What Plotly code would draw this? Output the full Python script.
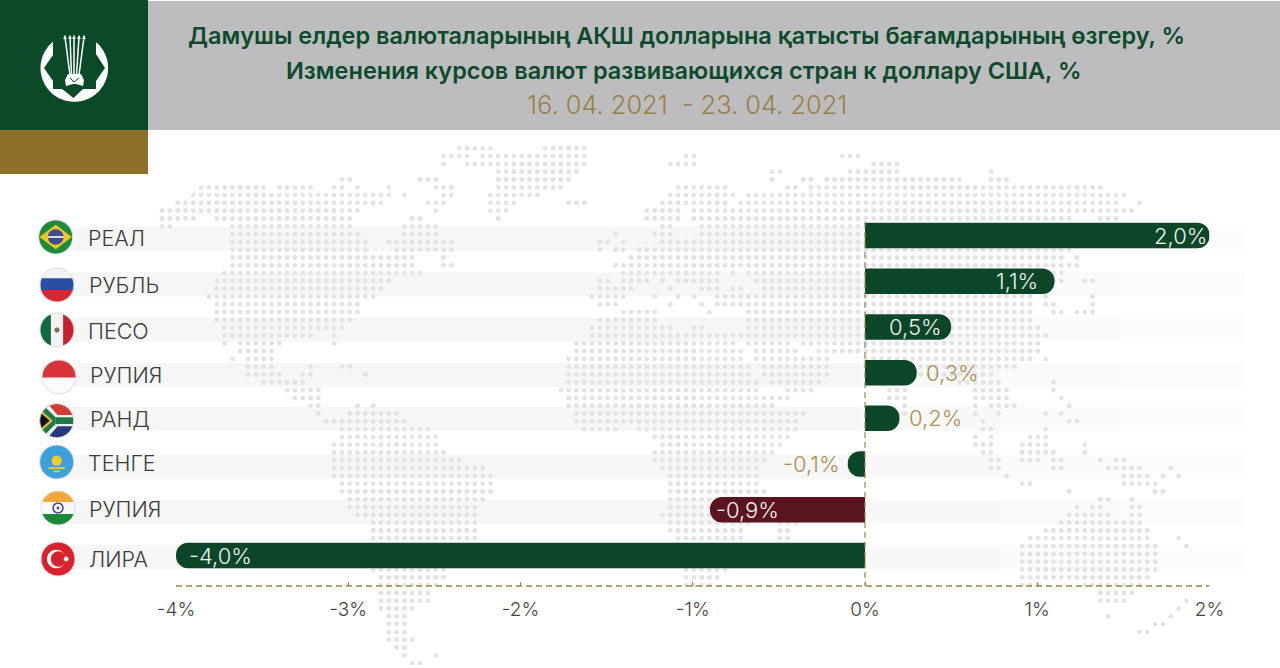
import numpy as np
import plotly.graph_objects as go

# ---------- data ----------
currencies = ["РЕАЛ", "РУБЛЬ", "ПЕСО", "РУПИЯ", "РАНД", "ТЕНГЕ", "РУПИЯ", "ЛИРА"]
changes = [2.0, 1.1, 0.5, 0.3, 0.2, -0.1, -0.9, -4.0]
value_labels = ["2,0%", "1,1%", "0,5%", "0,3%", "0,2%", "-0,1%", "-0,9%", "-4,0%"]
tick_values = [-4, -3, -2, -1, 0, 1, 2]
tick_labels = ["-4%", "-3%", "-2%", "-1%", "0%", "1%", "2%"]
title_kz = "Дамушы елдер валюталарының АҚШ долларына қатысты бағамдарының өзгеру, %"
title_ru = "Изменения курсов валют развивающихся стран к доллару США, %"
title_date = "16. 04. 2021  - 23. 04. 2021"

# decorative dotted world map: filled grid-cell runs per grid row
map_rows = [
 [(38,42),(49,54)],
 [(36,39),(41,54),(67,68),(87,89)],
 [(36,36),(39,54),(65,68),(91,94)],
 [(43,53),(78,79),(88,94),(106,106)],
 [(23,24),(33,35),(43,52),(78,78),(82,83),(85,102),(106,108)],
 [(5,13),(15,19),(22,23),(25,25),(29,29),(35,37),(43,51),(66,72),(80,81),(83,120)],
 [(4,29),(31,31),(36,37),(42,48),(65,73),(75,123)],
 [(2,28),(34,36),(42,45),(52,54),(64,72),(74,122),(125,125)],
 [(0,25),(35,35),(42,44),(62,66),(68,124)],
 [(0,4),(7,24),(32,33),(43,43),(62,66),(68,116),(120,122)],
 [(0,1),(9,24),(31,35),(64,65),(69,116)],
 [(9,25),(31,35),(58,58),(63,65),(69,117)],
 [(9,26),(29,37),(56,57),(59,59),(64,117)],
 [(9,26),(30,37),(56,56),(58,59),(61,116)],
 [(9,32),(36,36),(60,115),(117,117)],
 [(9,32),(36,37),(58,117)],
 [(8,33),(59,71),(73,73),(75,115)],
 [(7,29),(56,57),(59,62),(64,64),(66,71),(76,115),(118,119)],
 [(7,28),(56,60),(65,65),(69,71),(73,74),(77,113)],
 [(6,27),(55,59),(63,63),(66,66),(68,68),(71,111),(113,113),(119,119)],
 [(7,25),(56,58),(65,65),(69,69),(71,111),(113,114),(119,119)],
 [(7,25),(59,63),(70,70),(75,111),(114,115),(117,119)],
 [(7,24),(56,63),(75,111)],
 [(8,23),(55,65),(68,69),(75,112)],
 [(8,19),(22,22),(55,113)],
 [(8,8),(10,15),(22,22),(53,73),(75,80),(82,112)],
 [(10,14),(53,74),(76,81),(84,112)],
 [(9,9),(11,14),(52,74),(76,85),(90,111),(113,113)],
 [(11,14),(19,19),(23,24),(52,75),(77,85),(90,109)],
 [(11,15),(18,19),(26,26),(52,75),(77,85),(90,106)],
 [(13,18),(52,76),(78,84),(102,107),(114,114)],
 [(16,20),(51,76),(80,83),(93,95),(104,108),(114,114)],
 [(17,20),(52,80),(93,95),(104,108),(115,115)],
 [(19,20),(25,25),(27,27),(52,78),(95,95),(104,104),(106,109),(116,116)],
 [(20,20),(24,30),(53,82),(95,95),(104,104),(107,107),(113,113),(115,115)],
 [(21,31),(53,81),(105,105),(116,117)],
 [(23,34),(54,58),(61,81),(105,106),(113,113)],
 [(23,35),(63,80),(104,104),(106,106),(111,113)],
 [(22,35),(64,79),(104,106),(110,113),(118,118)],
 [(22,36),(63,78),(105,106),(110,114),(118,118)],
 [(22,38),(63,77),(106,107),(110,112),(114,115),(120,120),(122,123)],
 [(22,41),(64,76),(106,107),(114,115),(121,125),(129,129)],
 [(22,42),(65,76),(108,108),(123,126),(128,128),(130,130)],
 [(23,42),(65,76),(110,111),(123,127)],
 [(23,42),(65,77),(116,116),(127,128)],
 [(24,41),(65,76),(120,121),(124,124)],
 [(24,40),(65,74),(117,117),(119,120),(124,125)],
 [(25,40),(64,74),(116,121),(124,125)],
 [(27,40),(65,75),(79,81),(115,125)],
 [(27,40),(65,74),(79,80),(113,126)],
 [(27,40),(66,74),(79,80),(111,126),(130,130)],
 [(27,40),(66,73),(110,127),(131,131)],
 [(27,39),(66,73),(110,127)],
 [(27,38),(66,73),(110,127)],
 [(27,36),(67,72),(110,127)],
 [(28,36),(67,71),(110,126)],
 [(28,35),(67,70),(110,112),(118,125)],
 [(28,34),(120,124)],
 [(28,34),(120,123),(131,131)],
 [(28,32),(130,130)],
 [(29,31),(121,121),(129,129)],
 [(29,31),(127,128)],
 [(29,31),(125,126)],
 [(29,32)],
 [(30,31)],
 [(31,31),(35,35)],
 [(32,33)],
]

# ---------- page layout (pixels) ----------
W, H = 1280, 668
AX_L, AX_R, AX_B = 176.0, 1209.5, 586.0
ROW_TOP, ROW_BOT, BAR_H = 235.5, 555.5, 25.5
n_rows = len(currencies)
row_step = (ROW_BOT - ROW_TOP) / (n_rows - 1)
AX_T = ROW_TOP - row_step / 2
GREEN, GOLD, BURGUNDY = "#0c4629", "#8f702b", "#5a1420"
BAND_Y = [238.7, 284.2, 329.8, 375, 418.7, 467, 512, 557]
BAND_FADE = [(48, 860, "#f6f6f7"), (860, 1000, "#f8f8f8"), (1000, 1120, "#fafafa"), (1120, 1245, "#fcfcfc")]
LABEL_X = [86, 87, 85.5, 88, 88, 85.5, 87, 87]
LABEL_Y = [238, 285, 331, 375, 419, 463, 509, 559]
FLAG_C = [(55.7,237),(57,285),(57,330),(59,377),(56.7,420.7),(56.7,462),(58,508),(58,559)]
FLAG_R = 17
VALUE_SHIFT = [-1, -14, -7, 7, 8, -6, 4, 11]   # label gap from each bar tip, px
VALUE_ANCHOR = ["right", "right", "right", "left", "left", "right", "left", "left"]
VALUE_INSIDE = [True, True, True, False, False, False, True, True]
GX0, GY0, GS, GSY = 162.0, 148.3, 7.82, 7.8

fig = go.Figure()

# ---------- dotted map, on a full-page pixel axis pair ----------
dot_x, dot_y = [], []
for r, runs in enumerate(map_rows):
    for a, b in runs:
        for c in range(a, b + 1):
            dot_x.append(GX0 + GS * c)
            dot_y.append(GY0 + GSY * r)
fig.add_trace(go.Scatter(x=dot_x, y=dot_y, mode="markers", hoverinfo="skip",
                         marker=dict(size=4.8, color="#e3e3e5", line_width=0), xaxis="x", yaxis="y"))

# ---------- bars ----------
colors = [BURGUNDY if i == 6 else GREEN for i in range(n_rows)]
rows = list(range(n_rows))
fig.add_trace(go.Bar(x=changes, y=rows, orientation="h", xaxis="x2", yaxis="y2",
                     marker=dict(color=colors, cornerradius=12.7, line_width=0), hoverinfo="skip"))

shapes = []
def rect(x0, y0, x1, y1, color, layer="below"):
    shapes.append(dict(type="rect", xref="x", yref="y", x0=x0, x1=x1, y0=y0, y1=y1,
                       fillcolor=color, line_width=0, layer=layer))
def poly(points, color, layer="above"):
    d = "M" + "L".join(f"{x:.2f},{y:.2f}" for x, y in points) + "Z"
    shapes.append(dict(type="path", xref="x", yref="y", path=d, fillcolor=color, line_width=0, layer=layer))
def line(points, color="#ffffff", width=1.4):
    d = "M" + "L".join(f"{x:.2f},{y:.2f}" for x, y in points)
    shapes.append(dict(type="path", xref="x", yref="y", path=d, line=dict(color=color, width=width), layer="above"))
def circle_pts(cx, cy, r, n=56):
    t = np.linspace(0, 2 * np.pi, n, endpoint=False)
    return np.column_stack([cx + r * np.cos(t), cy + r * np.sin(t)])

# header
rect(148, 1, W, 130, "#bdbdbf")
rect(0, 0, 148, 130, "#0a4a29")
rect(0, 130, 148, 174, GOLD)

# row bands
for y in BAND_Y:
    for x0, x1, col in BAND_FADE:
        rect(x0, y - 12, x1, y + 12, col)

# dashed axis and zero line, gold
shapes.append(dict(type="line", xref="x2", yref="y", x0=-4, x1=2, y0=AX_B, y1=AX_B,
                   line=dict(color="#a08449", width=1.3, dash="6px,4px"), layer="above"))
shapes.append(dict(type="line", xref="x2", yref="y", x0=0, x1=0, y0=222, y1=AX_B,
                   line=dict(color="#a08449", width=1.2, dash="6px,4px"), layer="above"))

# logo
poly(circle_pts(74.3, 68, 33.8, 90), "#ffffff")
poly([(53,30),(96,30),(96,54),(105,68),(96,81),(96,89),(83,89),(73.5,98),(62,89),(53,89),(53,81),(44,68),(53,55)], "#0a4a29")
for x_top, x_bot in [(65, 70), (70, 71.5), (74, 74), (79, 76.5), (84, 79)]:
    line([(x_top, 37), (x_bot, 75)], width=1.5)
    poly([(x_top - 1.8, 39), (x_top, 34.5), (x_top + 1.8, 39)], "#ffffff")
poly([(68,74),(81,74),(84,80),(83,86),(76,84),(73,84),(66,86),(65,80)], "#ffffff")
line([(70,78),(74,82),(79,78)], "#0a4a29", 1)

# flags: polygons in unit-circle coordinates, clipped to the disc
def clip_to_disc(subject, n=56):
    win = circle_pts(0, 0, 1, n)
    out = [tuple(p) for p in subject]
    for i in range(n):
        a, b = win[i], win[(i + 1) % n]
        inp, out = out, []
        side = lambda p: (b[0]-a[0])*(p[1]-a[1]) - (b[1]-a[1])*(p[0]-a[0])
        for j, q in enumerate(inp):
            p = inp[j - 1]
            sp, sq = side(p), side(q)
            if sq >= 0:
                if sp < 0:
                    t = sp / (sp - sq); out.append((p[0]+t*(q[0]-p[0]), p[1]+t*(q[1]-p[1])))
                out.append(q)
            elif sp >= 0:
                t = sp / (sp - sq); out.append((p[0]+t*(q[0]-p[0]), p[1]+t*(q[1]-p[1])))
        if not out:
            return []
    return out
def flag_part(c, pts, color):
    clipped = clip_to_disc(pts)
    if clipped:
        poly([(c[0] + FLAG_R * x, c[1] + FLAG_R * y) for x, y in clipped], color)
def box(u0, v0, u1, v1):
    return [(u0, v0), (u1, v0), (u1, v1), (u0, v1)]
def disc(u, v, r):
    return [tuple(p) for p in circle_pts(u, v, r, 28)]
A = box(-1.1, -1.1, 1.1, 1.1)
flag_specs = [
    [(A, "#1d8a3e"), ([(-.95,0),(0,-.72),(.95,0),(0,.72)], "#f4c61f"), (disc(0,0,.46), "#3f4c94"), (box(-.46,-.06,.46,.06), "#d8dbe8")],
    [(A, "#f4f4f5"), (box(-1.1,-.4,1.1,.3), "#2b4ea3"), (box(-1.1,.3,1.1,1.1), "#d9262c")],
    [(A, "#f4f4f2"), (box(-1.1,-1.1,-.36,1.1), "#0d6a3d"), (box(.36,-1.1,1.1,1.1), "#c8202f"), (disc(0,0,.15), "#7d6a4a")],
    [(A, "#fbfbfb"), (box(-1.1,-1.1,1.1,.03), "#d8333a")],
    [(box(-1.1,-1.1,1.1,0), "#d5392f"), (box(-1.1,0,1.1,1.1), "#243a7c"),
     ([(-1.1,-1.1),(-.62,-1.1),(.05,-.33),(.05,.33),(-.62,1.1),(-1.1,1.1)], "#f2f2f2"), (box(.05,-.33,1.1,.33), "#f2f2f2"),
     ([(-1.1,-.9),(-.78,-.9),(-.06,-.2),(-.06,.2),(-.78,.9),(-1.1,.9)], "#1f7a4a"), (box(-.06,-.2,1.1,.2), "#1f7a4a"),
     ([(-1.1,-.78),(-.22,0),(-1.1,.78)], "#e8b62c"), ([(-1.1,-.6),(-.42,0),(-1.1,.6)], "#111111")],
    [(A, "#3ba0dc"), (disc(0,-.08,.3), "#f3cd2e"), (box(-.48,.3,.48,.42), "#e6c542"), (box(-.2,.5,.2,.6), "#e6c542")],
    [(A, "#f8f8f6"), (box(-1.1,-1.1,1.1,-.36), "#f2a83b"), (box(-1.1,.36,1.1,1.1), "#1a8a3a"),
     (disc(0,0,.33), "#2b3a80"), (disc(0,0,.25), "#f4f4f8"), (disc(0,0,.08), "#2b3a80")],
    [(A, "#d8232e"), (disc(-.1,0,.55), "#ffffff"), (disc(.03,0,.45), "#d8232e"), (disc(.48,0,.14), "#ffffff")],
]
for c, parts in zip(FLAG_C, flag_specs):
    for pts, col in parts:
        flag_part(c, pts, col)
    shapes.append(dict(type="circle", xref="x", yref="y", x0=c[0]-FLAG_R, x1=c[0]+FLAG_R,
                       y0=c[1]-FLAG_R, y1=c[1]+FLAG_R, line=dict(color="#dddddf", width=1), layer="above"))

# ---------- text ----------
ann = []
def label(text, x, y, size, color, anchor="left", weight=300):
    ann.append(dict(text=text, xref="x", yref="y", x=x, y=y, xanchor=anchor, yanchor="middle", showarrow=False,
                    font=dict(family="Inter", size=size, color=color, weight=weight)))
label(title_kz, 686, 35, 23.5, "#0c4a2b", "center", 600)
label(title_ru, 683.5, 70, 23.5, "#0c4a2b", "center", 600)
label(title_date, 686.5, 104, 25.4, "#9a7f45", "center", 300)
for name, x, y in zip(currencies, LABEL_X, LABEL_Y):
    label(name, x, y, 21.5, "#3c3c3c")
for i, (v, txt) in enumerate(zip(changes, value_labels)):
    ann.append(dict(text=txt, xref="x2", yref="y2", x=v, y=rows[i], xshift=VALUE_SHIFT[i],
                    xanchor=VALUE_ANCHOR[i], yanchor="middle", showarrow=False,
                    font=dict(family="Inter", size=22, weight=300,
                              color="#eef3ee" if VALUE_INSIDE[i] else "#a98f55")))

fig.update_layout(
    width=W, height=H, margin=dict(l=0, r=0, t=0, b=0), autosize=False, showlegend=False,
    paper_bgcolor="#ffffff", plot_bgcolor="rgba(0,0,0,0)", bargap=1 - BAR_H / row_step,
    shapes=shapes, annotations=ann,
    xaxis=dict(domain=[0, 1], range=[0, W], visible=False, fixedrange=True, automargin=False),
    yaxis=dict(domain=[0, 1], range=[H, 0], visible=False, fixedrange=True, automargin=False),
    xaxis2=dict(domain=[AX_L / W, AX_R / W], range=[-4, 2], anchor="y2", side="bottom", automargin=False,
                tickvals=tick_values, ticktext=tick_labels, ticks="inside", ticklen=4, tickwidth=1,
                tickcolor="#8f7a4a", showgrid=False, zeroline=False, showline=False, ticklabelstandoff=10,
                tickfont=dict(family="Inter", size=19, color="#444444", weight=300)),
    yaxis2=dict(domain=[(H - AX_B) / H, (H - AX_T) / H],
                range=[(AX_B - ROW_TOP) / row_step, (AX_T - ROW_TOP) / row_step],
                anchor="x2", visible=False, automargin=False),
)
fig.write_html("out.html", post_script="document.body.style.margin='0';",
               config={"displayModeBar": False})
